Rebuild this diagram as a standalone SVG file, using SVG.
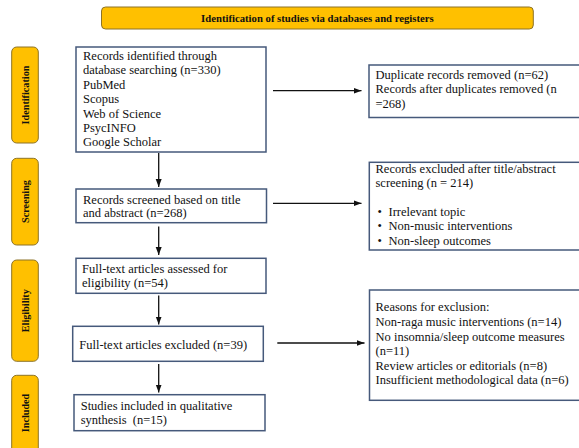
<svg xmlns="http://www.w3.org/2000/svg" width="579" height="448" viewBox="0 0 579 448">
<defs>
<style>
.bg{fill:#ffffff}
.box{fill:#ffffff;stroke:#46597b;stroke-width:1.5}
.lab{fill:#ffc000;stroke:#8c7328;stroke-width:1}
.t{font-size:12.5px;fill:#111111}
.lt{font-size:10.2px;font-weight:bold;fill:#111111;text-anchor:middle}
.bt{font-size:10.7px;font-weight:bold;fill:#111111;text-anchor:middle}
.ar{fill:none;stroke:#111111;stroke-width:1.3;marker-end:url(#ah)}
</style>
<marker id="ah" markerUnits="userSpaceOnUse" markerWidth="8" markerHeight="8" viewBox="0 0 8 8" refX="8" refY="4" orient="auto">
<path d="M0,1 L8,4 L0,7 Z" fill="#111111"/>
</marker>
</defs>
<rect class="bg" x="0" y="0" width="579" height="448"/>
<g font-family="'Liberation Serif', 'DejaVu Serif', 'Times New Roman', serif">

<g id="banner">
<rect class="lab" x="101.5" y="7" width="431.8" height="22" rx="4"/>
<text class="bt" x="317.4" y="21.5">Identification of studies via databases and registers</text>
</g>

<g id="label-identification">
<rect class="lab" x="11.7" y="47" width="26.6" height="96" rx="5"/>
<text class="lt" transform="translate(28.5,95) rotate(-90)">Identification</text>
</g>
<g id="label-screening">
<rect class="lab" x="11.7" y="158.3" width="26.6" height="86.7" rx="5"/>
<text class="lt" transform="translate(28.5,201.5) rotate(-90)">Screening</text>
</g>
<g id="label-eligibility">
<rect class="lab" x="11.7" y="260" width="26.6" height="101.3" rx="5"/>
<text class="lt" transform="translate(28.5,310.7) rotate(-90)">Eligibility</text>
</g>
<g id="label-included">
<rect class="lab" x="11.7" y="375.3" width="26.6" height="82" rx="5"/>
<text class="lt" transform="translate(28.5,413) rotate(-90)">Included</text>
</g>

<g id="records-identified">
<rect class="box" x="76" y="47" width="190" height="105"/>
<text class="t" x="83" y="60">Records identified through</text>
<text class="t" x="83" y="74.4">database searching (n=330)</text>
<text class="t" x="83" y="88.8">PubMed</text>
<text class="t" x="83" y="103.2">Scopus</text>
<text class="t" x="83" y="117.6">Web of Science</text>
<text class="t" x="83" y="132">PsycINFO</text>
<text class="t" x="83" y="146.4">Google Scholar</text>
</g>

<g id="duplicates-removed">
<rect class="box" x="369" y="65" width="214" height="52.5"/>
<text class="t" x="375.5" y="79">Duplicate records removed (n=62)</text>
<text class="t" x="375.5" y="93.3">Records after duplicates removed (n</text>
<text class="t" x="375.5" y="107.5">=268)</text>
</g>

<g id="records-screened">
<rect class="box" x="76" y="189" width="190.5" height="33.7"/>
<text class="t" x="83" y="203.5">Records screened based on title</text>
<text class="t" x="83" y="217.2">and abstract (n=268)</text>
</g>

<g id="records-excluded">
<rect class="box" x="369.3" y="162.3" width="214" height="87.7"/>
<text class="t" x="375.5" y="173.3">Records excluded after title/abstract</text>
<text class="t" x="375.5" y="187.3">screening (n = 214)</text>
<text class="t" x="377.5" y="215.5">•</text>
<text class="t" x="388.5" y="215.5">Irrelevant topic</text>
<text class="t" x="377.5" y="230">•</text>
<text class="t" x="388.5" y="230">Non-music interventions</text>
<text class="t" x="377.5" y="244.5">•</text>
<text class="t" x="388.5" y="244.5">Non-sleep outcomes</text>
</g>

<g id="fulltext-assessed">
<rect class="box" x="76" y="258.3" width="190" height="35"/>
<text class="t" x="82" y="272.5">Full-text articles assessed for</text>
<text class="t" x="82" y="286.5">eligibility (n=54)</text>
</g>

<g id="fulltext-excluded">
<rect class="box" x="72.7" y="326.3" width="190.6" height="35"/>
<text class="t" x="79.3" y="348.5">Full-text articles excluded (n=39)</text>
</g>

<g id="exclusion-reasons">
<rect class="box" x="369.5" y="290" width="214" height="110.3"/>
<text class="t" x="375.5" y="311.3">Reasons for exclusion:</text>
<text class="t" x="375.5" y="326">Non-raga music interventions (n=14)</text>
<text class="t" x="375.5" y="340.5">No insomnia/sleep outcome measures</text>
<text class="t" x="375.5" y="355">(n=11)</text>
<text class="t" x="375.5" y="369.7">Review articles or editorials (n=8)</text>
<text class="t" x="375.5" y="384">Insufficient methodological data (n=6)</text>
</g>

<g id="studies-included">
<rect class="box" x="74" y="394.7" width="191" height="36"/>
<text class="t" x="80.7" y="409.5">Studies included in qualitative</text>
<text class="t" x="80.7" y="424" xml:space="preserve">synthesis  (n=15)</text>
</g>

</g>
<g id="connectors">
<line class="ar" x1="273" y1="90.7" x2="361.5" y2="90.7"/>
<line class="ar" x1="273" y1="203.3" x2="361.5" y2="203.3"/>
<line class="ar" x1="277.3" y1="343" x2="364.5" y2="343"/>
<line class="ar" x1="158.7" y1="153" x2="158.7" y2="187"/>
<line class="ar" x1="158.7" y1="226.5" x2="158.7" y2="255"/>
<line class="ar" x1="158.7" y1="295.5" x2="158.7" y2="324.5"/>
<line class="ar" x1="158.7" y1="364" x2="158.7" y2="392.5"/>
</g>
</svg>
